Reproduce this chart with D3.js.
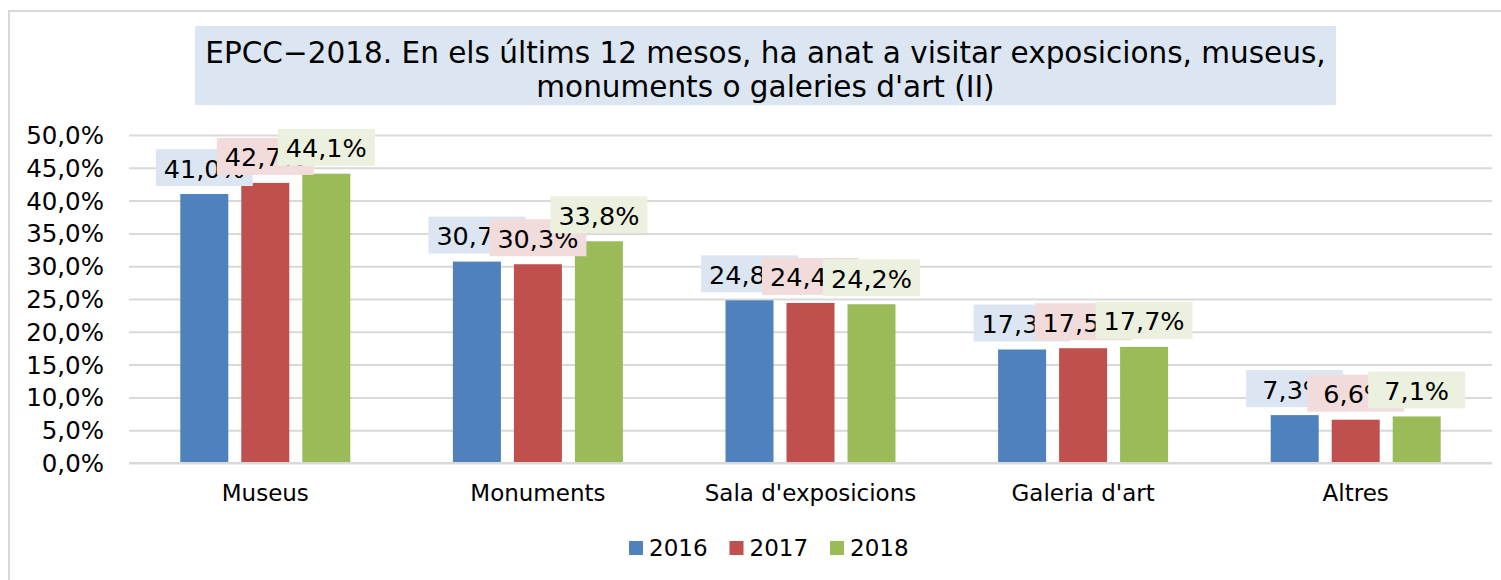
<!DOCTYPE html>
<html>
<head>
<meta charset="utf-8">
<script src="https://cdn.jsdelivr.net/npm/d3@7"></script>
<style>
    body { margin: 0; background: #fff; }
    svg text { font-family: 'DejaVu Sans', Verdana, sans-serif; fill: #000; }
</style>
</head>
<body>
<svg id="chart" width="1501" height="580"></svg>
<script>
/**
 * Grouped bar chart: visits to exhibitions, museums, monuments (EPCC 2016-2018).
 */
const categories = ['Museus', 'Monuments', "Sala d'exposicions", "Galeria d'art", 'Altres'];
const years = ['2016', '2017', '2018'];
const values2016 = [0.410, 0.307, 0.248, 0.173, 0.073];
const values2017 = [0.427, 0.303, 0.244, 0.175, 0.066];
const values2018 = [0.441, 0.338, 0.242, 0.177, 0.071];
const yTicks = [0, 0.05, 0.10, 0.15, 0.20, 0.25, 0.30, 0.35, 0.40, 0.45, 0.50];
const titleLines = ["EPCC\u22122018. En els últims 12 mesos, ha anat a visitar exposicions, museus,",
    "monuments o galeries d'art (II)"];

/**
 * Visual configs.
 */
const plot = { left: 129, right: 1492, top: 135, bottom: 463 },
    barColors = ['#4f81bd', '#c0504d', '#9bbb59'],
    labelFills = ['#dce6f2', '#f2dcdb', '#ebf1de'],
    gridColor = '#d9d9d9';

const series = years.map((y, i) => ({
    year: y,
    color: barColors[i],
    labelFill: labelFills[i],
    values: [values2016, values2017, values2018][i]
}));

const locale = d3.formatLocale({ decimal: ',', thousands: '.', grouping: [3], currency: ['', '€'] }),
    pct = locale.format('.1%');

const svg = d3.select('#chart');

// Outer frame
svg.append('rect')
    .attr('x', 9).attr('y', 11)
    .attr('width', 1600).attr('height', 700)
    .attr('fill', 'none')
    .attr('stroke', gridColor)
    .attr('stroke-width', 2);

// Title
const title = svg.append('g').attr('class', 'title');
title.append('rect')
    .attr('x', 195).attr('y', 26)
    .attr('width', 1141).attr('height', 79)
    .attr('fill', '#dce6f2');
title.selectAll('text').data(titleLines).join('text')
    .attr('x', 765.5)
    .attr('y', (d, i) => 63 + i * 34)
    .attr('text-anchor', 'middle')
    .style('font-size', '29.5px')
    .text(d => d);

/**
 * Scales.
 */
const x = d3.scaleBand().domain(categories).range([plot.left, plot.right]);
const xInner = d3.scaleBand().domain(years)
    .range([0, x.bandwidth()])
    .paddingInner(0.213)
    .paddingOuter(0.841);
const y = d3.scaleLinear().domain([0, 0.5]).range([plot.bottom, plot.top]);

// Gridlines and y labels
const yAxis = d3.axisLeft(y)
    .tickValues(yTicks)
    .tickSize(-(plot.right - plot.left))
    .tickPadding(25)
    .tickFormat(pct);

const yAxisG = svg.append('g')
    .attr('class', 'axis y-axis')
    .attr('transform', 'translate(' + plot.left + ',0)')
    .call(yAxis);
yAxisG.select('.domain').remove();
yAxisG.selectAll('line').attr('stroke', gridColor).attr('stroke-width', 2);
yAxisG.selectAll('text').style('font-size', '24.5px').attr('dy', '0.35em');

// x axis labels
const xAxis = d3.axisBottom(x).tickSize(0).tickPadding(22);
const xAxisG = svg.append('g')
    .attr('class', 'axis x-axis')
    .attr('transform', 'translate(0,' + plot.bottom + ')')
    .call(xAxis);
xAxisG.select('.domain').remove();
xAxisG.selectAll('text').style('font-size', '23px').attr('dy', '0.71em');

// Bars
const groups = svg.append('g').attr('class', 'bars')
    .selectAll('g').data(series).join('g')
    .attr('fill', d => d.color);

groups.selectAll('rect')
    .data(s => s.values.map((v, i) => ({ cat: categories[i], year: s.year, v })))
    .join('rect')
    .attr('x', d => x(d.cat) + xInner(d.year))
    .attr('width', xInner.bandwidth())
    .attr('y', d => y(d.v))
    .attr('height', d => y(0) - y(d.v));

// Baseline
svg.append('line')
    .attr('x1', plot.left).attr('x2', plot.right)
    .attr('y1', plot.bottom).attr('y2', plot.bottom)
    .attr('stroke', gridColor).attr('stroke-width', 2);

// Data labels, drawn series by series so the later ones cover the earlier ones
const boxW = 97, boxH = 37, boxGap = 8;
series.forEach(s => {
    const lg = svg.append('g').attr('class', 'labels labels-' + s.year);
    s.values.forEach((v, i) => {
        const cx = x(categories[i]) + xInner(s.year) + xInner.bandwidth() / 2,
            bottom = y(v) - boxGap;
        lg.append('rect')
            .attr('x', cx - boxW / 2)
            .attr('y', bottom - boxH)
            .attr('width', boxW)
            .attr('height', boxH)
            .attr('fill', s.labelFill);
        lg.append('text')
            .attr('x', cx)
            .attr('y', bottom - 8.5)
            .attr('text-anchor', 'middle')
            .style('font-size', '25.5px')
            .text(pct(v));
    });
});

// Legend
const legend = svg.append('g').attr('class', 'legend')
    .selectAll('g').data(series).join('g')
    .attr('transform', (d, i) => 'translate(' + (629 + i * 100.5) + ',541)');
legend.append('rect')
    .attr('width', 14).attr('height', 14)
    .attr('fill', d => d.color);
legend.append('text')
    .attr('x', 20).attr('y', 7)
    .attr('dy', '0.35em')
    .style('font-size', '23px')
    .text(d => d.year);
</script>
</body>
</html>
